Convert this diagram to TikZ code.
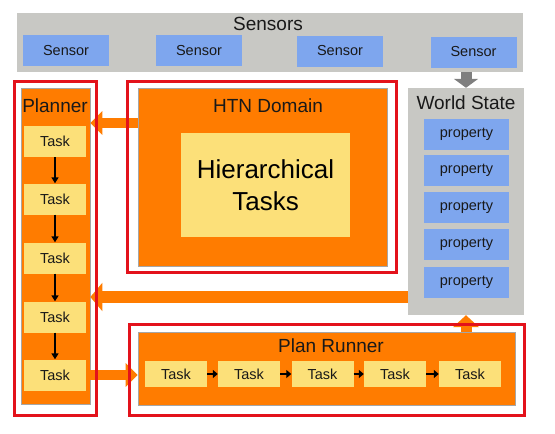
\documentclass[tikz,border=0pt]{standalone}
\usepackage{fontspec}
\setmainfont{Liberation Sans}
\usetikzlibrary{arrows.meta,positioning}
\definecolor{panelgray}{HTML}{C8C8C4}
\definecolor{sensorblue}{HTML}{7EA6EE}
\definecolor{htnorange}{HTML}{FF7C00}
\definecolor{taskyellow}{HTML}{FCE079}
\definecolor{framered}{HTML}{E3121B}
\definecolor{arrowgray}{HTML}{7F7F7F}
\begin{document}
\begin{tikzpicture}[x=1pt, y=-1pt,
  title/.style={font=\fontsize{19}{22}\selectfont, text=black!90},
  small/.style={font=\fontsize{14.5}{17}\selectfont, text=black!90},
  panel/.style={fill=panelgray, inner sep=0pt},
  orangebox/.style={fill=htnorange, draw=gray!70, line width=0.6pt, inner sep=0pt},
  redframe/.style={draw=framered, line width=3pt, inner sep=0pt},
  bluebox/.style={fill=sensorblue, minimum width=86pt, minimum height=31pt, inner sep=0pt, small},
  taskbox/.style={fill=taskyellow, minimum width=62pt, minimum height=31pt, inner sep=0pt, small},
  bigarrow/.style={htnorange, line width=#1, -{Triangle[length=12pt, width=2.3*#1]}},
  grayarrow/.style={arrowgray, line width=11pt, -{Triangle[length=9pt, width=24pt]}},
  flowarrow/.style={black, line width=1.5pt, -{Triangle[length=6pt, width=7pt]}},
  stepline/.style={black, line width=2.2pt, -{Triangle[length=5pt, width=8pt]}}]
\useasboundingbox (0,0) rectangle (555,434);

% sensors along the top
\node[panel, minimum width=506pt, minimum height=59pt] (sensors) at (270,42.5) {};
\node[title] at (268,24) {Sensors};
\foreach \i/\x/\y in {1/66/50.5, 2/199/50.5, 3/340/51, 4/473.5/52}
  \node[bluebox] (sensor\i) at (\x,\y) {Sensor};

% world state
\node[panel, minimum width=116pt, minimum height=227pt] (ws) at (466,201.5) {};
\node[title] at (466,103) {World State};
\foreach \i/\y in {1/134.5, 2/170.5, 3/207.5, 4/244.5, 5/282.5}
  \node[bluebox, minimum width=85pt] (prop\i) at (466.5,\y) {property};

% planner column
\node[orangebox, minimum width=69pt, minimum height=316pt] (planner) at (55.5,246) {};
\node[title] at (55,106) {Planner};
\foreach \i/\y in {1/141.5, 2/199, 3/258, 4/317, 5/375}
  \node[taskbox] (ptask\i) at (55,\y) {Task};
\foreach \a/\b in {1/2, 2/3, 3/4, 4/5}
  \draw[flowarrow] (ptask\a.south) -- (ptask\b.north);

% htn domain
\node[orangebox, minimum width=249pt, minimum height=178pt] (htn) at (262.5,177) {};
\node[title] at (268,106) {HTN Domain};
\node[fill=taskyellow, minimum width=169pt, minimum height=104pt, align=center,
  font=\fontsize{26}{32}\selectfont] (hier) at (265.5,185) {Hierarchical\\Tasks};

% plan runner
\node[orangebox, minimum width=377pt, minimum height=73pt] (runner) at (326.5,368.5) {};
\node[title] at (331,346) {Plan Runner};
\foreach \i/\x in {1/176, 2/249, 3/322.5, 4/395, 5/470}
  \node[taskbox, minimum height=26pt] (rtask\i) at (\x,374) {Task};
\foreach \a/\b in {1/2, 2/3, 3/4, 4/5}
  \draw[stepline] (rtask\a.east) -- (rtask\b.west);

% connectors between the parts
\coordinate (htnout) at (138,123);
\coordinate (wsout) at (408,297);
\draw[grayarrow] (ws.north |- sensors.south) -- (ws.north);
\draw[bigarrow=10pt] (htnout) -- (htnout -| planner.east);
\draw[bigarrow=12pt] (wsout) -- (wsout -| planner.east);
\draw[bigarrow=10pt] (ptask5.east -| planner.east) -- (runner.west |- ptask5.east);
\draw[bigarrow=11pt] (runner.north -| ws.south) -- (ws.south);

% red frames
\node[redframe, minimum width=82pt, minimum height=334pt] at (55,248) {};
\node[redframe, minimum width=269pt, minimum height=191pt] at (261.5,176.5) {};
\node[redframe, minimum width=395pt, minimum height=91pt] at (326.5,369.5) {};
\end{tikzpicture}
\end{document}
